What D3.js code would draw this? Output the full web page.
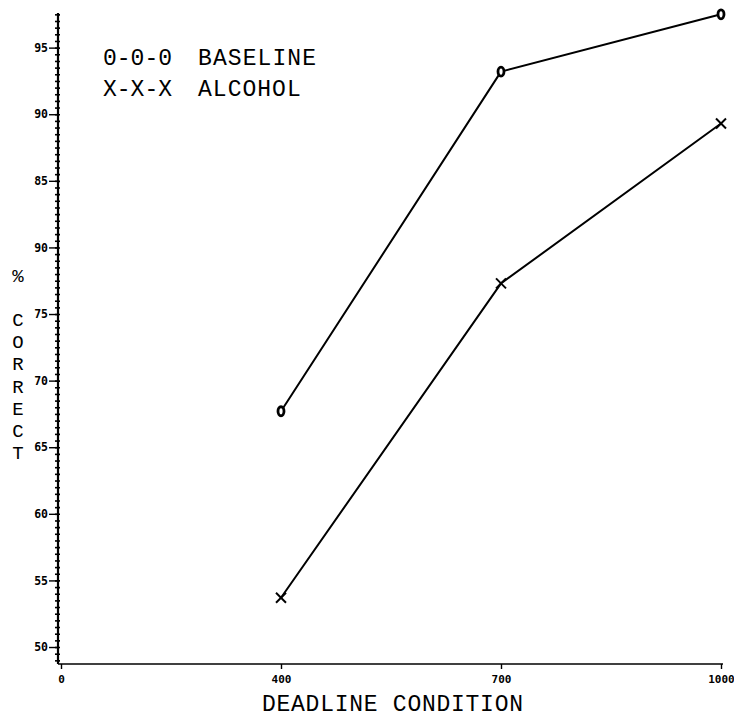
<!DOCTYPE html>
<html>
<head>
<meta charset="utf-8">
<script src="https://cdn.jsdelivr.net/npm/d3@7"></script>
<style>
  html, body { margin: 0; padding: 0; background: #fff; }
  svg { display: block; }
  text { fill: #000; }
</style>
</head>
<body>
<div id="chart"></div>
<script>
// ---- data ----
const xCategories = ["0", "400", "700", "1000"];
const deadlines = ["400", "700", "1000"];
const baselineValues = [67.7, 93.2, 97.5];
const alcoholValues = [53.7, 77.3, 89.3];
const yTickValues = [50, 55, 60, 65, 70, 75, 80, 85, 90, 95];
const yTickLabels = ["50", "55", "60", "65", "70", "75", "90", "85", "90", "95"];
const legendLabels = ["BASELINE", "ALCOHOL"];
const legendSymbols = ["0-0-0", "X-X-X"];
const xTitle = "DEADLINE CONDITION";
const yTitleChars = ["%", "C", "O", "R", "R", "E", "C", "T"];

const W = 734, H = 719;
const svg = d3.select("#chart").append("svg").attr("width", W).attr("height", H);

const x = d3.scalePoint().domain(xCategories).range([61, 721]);
const y = d3.scaleLinear().domain([48.8, 97.6]).range([663, 13]);
const axisX = 58, axisY = 664;

const mono = "'DejaVu Sans Mono', 'Liberation Mono', monospace";
const plot = "'Liberation Mono', 'DejaVu Sans Mono', monospace";

// ---- y axis: minor ticks crossing the line ----
const minor = d3.range(49, 97.51, 0.5);
svg.append("g").attr("transform", `translate(${axisX},0)`)
  .call(d3.axisLeft(y).tickValues(minor).tickSize(3).tickFormat(""))
  .call(g => g.select(".domain").remove())
  .call(g => g.selectAll("line").attr("stroke", "#000").attr("stroke-width", 1.6));
svg.append("g").attr("transform", `translate(${axisX},0)`)
  .call(d3.axisRight(y).tickValues(minor).tickSize(2).tickFormat(""))
  .call(g => g.select(".domain").remove())
  .call(g => g.selectAll("line").attr("stroke", "#000").attr("stroke-width", 1.6));

// major ticks + labels
svg.append("g").attr("transform", `translate(${axisX},0)`)
  .call(d3.axisLeft(y).tickValues(yTickValues).tickSize(9).tickPadding(1)
        .tickFormat((d, i) => yTickLabels[i]))
  .call(g => g.select(".domain").remove())
  .call(g => g.selectAll("line").attr("stroke", "#000").attr("stroke-width", 1.4))
  .call(g => g.selectAll("text").attr("font-family", mono).attr("font-weight", "bold")
        .attr("font-size", 11.5).attr("fill", "#000"));

// y axis line
svg.append("line").attr("x1", axisX).attr("x2", axisX)
  .attr("y1", y(97.6)).attr("y2", axisY)
  .attr("stroke", "#000").attr("stroke-width", 2.2);

// ---- x axis ----
svg.append("g").attr("transform", `translate(0,${axisY})`)
  .call(d3.axisBottom(x).tickSize(5).tickPadding(6))
  .call(g => g.select(".domain").remove())
  .call(g => g.selectAll("line").attr("stroke", "#000").attr("stroke-width", 1.4))
  .call(g => g.selectAll("text").attr("font-family", mono).attr("font-weight", "bold")
        .attr("font-size", 11).attr("fill", "#000"));
svg.append("line").attr("x1", axisX).attr("x2", x("1000") + 2)
  .attr("y1", axisY).attr("y2", axisY)
  .attr("stroke", "#000").attr("stroke-width", 1.6);

// ---- titles ----
svg.append("text").text(xTitle)
  .attr("x", 262).attr("y", 711)
  .attr("textLength", 261).attr("lengthAdjust", "spacing")
  .attr("font-family", plot).attr("font-size", 23);

// stacked vertical y title: one text element per character
yTitleChars.forEach((c, i) => {
  svg.append("text").attr("font-family", plot).attr("font-size", 19)
    .attr("text-anchor", "middle")
    .attr("x", 18)
    .attr("y", i === 0 ? 282 : 326 + (i - 1) * 22.2)
    .text(c);
});

// ---- lines ----
const line = d3.line().x((d, i) => x(deadlines[i])).y(d => y(d));
[baselineValues, alcoholValues].forEach(vals => {
  svg.append("path").datum(vals).attr("d", line)
    .attr("fill", "none").attr("stroke", "#000").attr("stroke-width", 2)
    .attr("stroke-linejoin", "round");
});

// baseline markers: small "0"
svg.selectAll(".mb").data(baselineValues).join("ellipse")
  .attr("cx", (d, i) => x(deadlines[i])).attr("cy", d => y(d))
  .attr("rx", 3).attr("ry", 4.5)
  .attr("fill", "#fff").attr("stroke", "#000").attr("stroke-width", 2.8);

// alcohol markers: "x"
const xm = svg.selectAll(".ma").data(alcoholValues).join("g")
  .attr("transform", (d, i) => `translate(${x(deadlines[i])},${y(d)})`);
xm.append("line").attr("x1", -5).attr("y1", -5).attr("x2", 5).attr("y2", 5)
  .attr("stroke", "#000").attr("stroke-width", 2);
xm.append("line").attr("x1", -5).attr("y1", 5).attr("x2", 5).attr("y2", -5)
  .attr("stroke", "#000").attr("stroke-width", 2);

// ---- legend ----
legendLabels.forEach((lab, i) => {
  const by = 65 + i * 31;
  svg.append("text").text(legendSymbols[i])
    .attr("x", 103).attr("y", by)
    .attr("textLength", 69).attr("lengthAdjust", "spacing")
    .attr("font-family", plot).attr("font-size", 23);
  svg.append("text").text(lab)
    .attr("x", 198).attr("y", by)
    .attr("textLength", lab.length * 15.25 - 4).attr("lengthAdjust", "spacing")
    .attr("font-family", plot).attr("font-size", 23);
});
</script>
</body>
</html>
